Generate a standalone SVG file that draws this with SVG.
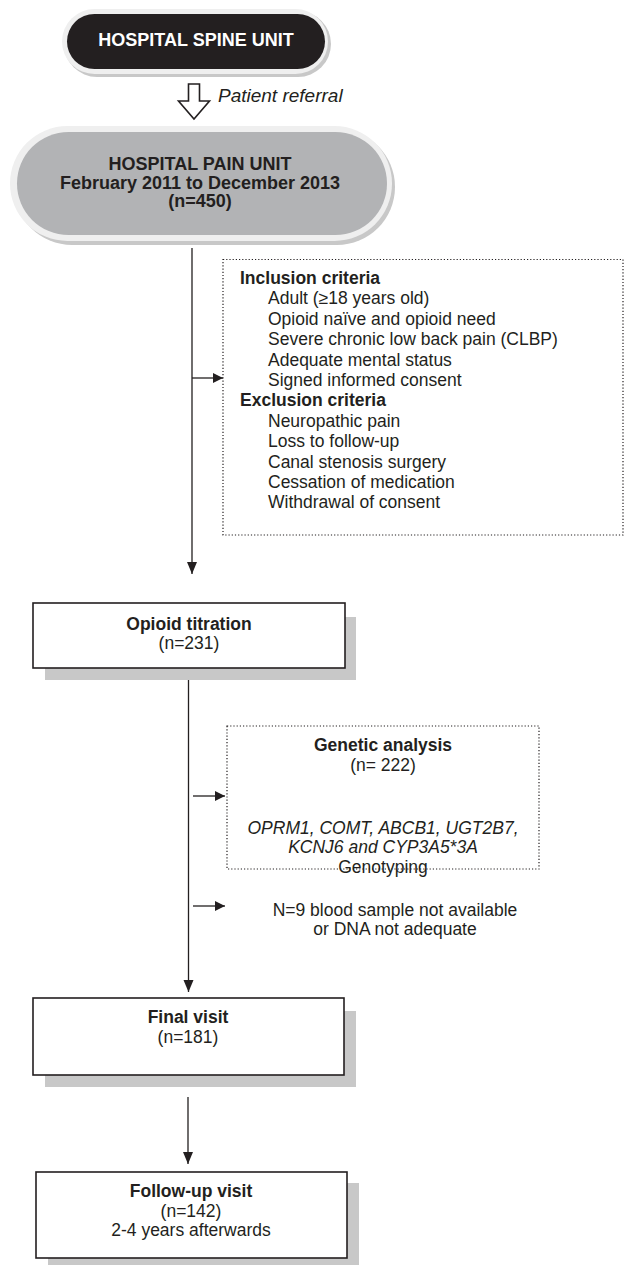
<svg xmlns="http://www.w3.org/2000/svg" width="625" height="1265" viewBox="0 0 625 1265">
<style>
text{font-family:"Liberation Sans",Arial,sans-serif;fill:#231f20;font-size:17.5px}
.b{font-weight:bold}
.i{font-style:italic}
.c{text-anchor:middle}
.box{fill:#fff;stroke:#231f20;stroke-width:1.6}
.sh{fill:#c8c8c8}
.dot{fill:none;stroke:#231f20;stroke-width:1.2;stroke-dasharray:1.2 2}
.ln{stroke:#231f20;stroke-width:1.3;fill:none}
</style>
<defs>
<marker id="ah" viewBox="0 0 10 10" refX="10" refY="5" markerWidth="10" markerHeight="10" markerUnits="userSpaceOnUse" orient="auto">
<path d="M0,0 L10,5 L0,10 Z" fill="#231f20"/>
</marker>
<marker id="ahl" viewBox="0 0 12 10" refX="12" refY="5" markerWidth="12" markerHeight="11" markerUnits="userSpaceOnUse" orient="auto">
<path d="M0,0 L12,5 L0,10 Z" fill="#231f20"/>
</marker>
</defs>

<g id="spine-unit">
<rect x="64" y="11" width="267" height="66" rx="33" fill="#c8c8c8"/>
<rect x="62" y="9" width="266" height="65" rx="32.5" fill="#efefef"/>
<rect x="67" y="14" width="258" height="55" rx="27.5" fill="#231f20"/>
<text x="196" y="46" class="b c" style="fill:#fff;font-size:18px">HOSPITAL SPINE UNIT</text>
</g>

<g id="referral">
<path d="M188.5,84 L199.5,84 L199.5,101 L209.5,101 L194,119 L178.5,101 L188.5,101 Z" fill="#fff" stroke="#231f20" stroke-width="1.6"/>
<text x="218" y="102" class="i" style="font-size:19px">Patient referral</text>
</g>

<g id="pain-unit">
<rect x="14" y="129" width="381" height="116" rx="58" fill="#c8c8c8"/>
<rect x="10" y="126" width="382" height="115" rx="57.5" fill="#efefef"/>
<rect x="17" y="132" width="370" height="103" rx="51.5" fill="#b2b3b5"/>
<text x="200" y="170" class="b c" style="font-size:18px">HOSPITAL PAIN UNIT</text>
<text x="200" y="188.5" class="b c" style="font-size:18px">February 2011 to December 2013</text>
<text x="200" y="207" class="b c" style="font-size:18px">(n=450)</text>
</g>

<g id="criteria">
<rect x="223" y="259.5" width="400" height="275.5" class="dot"/>
<text x="240" y="284" class="b">Inclusion criteria</text>
<text x="268" y="304.4">Adult (≥18 years old)</text>
<text x="268" y="324.8">Opioid naïve and opioid need</text>
<text x="268" y="345.2">Severe chronic low back pain (CLBP)</text>
<text x="268" y="365.6">Adequate mental status</text>
<text x="268" y="386">Signed informed consent</text>
<text x="240" y="406.4" class="b">Exclusion criteria</text>
<text x="268" y="426.8">Neuropathic pain</text>
<text x="268" y="447.2">Loss to follow-up</text>
<text x="268" y="467.6">Canal stenosis surgery</text>
<text x="268" y="488">Cessation of medication</text>
<text x="268" y="508.4">Withdrawal of consent</text>
</g>

<g id="opioid-titration">
<rect x="45" y="617" width="311" height="63" class="sh"/>
<rect x="33" y="603" width="312" height="65" class="box"/>
<text x="189" y="630" class="b c">Opioid titration</text>
<text x="189" y="649" class="c">(n=231)</text>
</g>

<g id="genetic-analysis">
<rect x="227" y="726" width="312" height="143" class="dot"/>
<text x="383" y="751" class="b c">Genetic analysis</text>
<text x="383" y="771" class="c">(n= 222)</text>
<text x="383" y="834" class="i c">OPRM1, COMT, ABCB1, UGT2B7,</text>
<text x="383" y="853" class="i c">KCNJ6 and CYP3A5*3A</text>
<text x="383" y="873" class="c">Genotyping</text>
</g>

<g id="dna-excluded">
<text x="395" y="916" class="c">N=9 blood sample not available</text>
<text x="395" y="935" class="c">or DNA not adequate</text>
</g>

<g id="final-visit">
<rect x="45" y="1011" width="311" height="76" class="sh"/>
<rect x="33" y="998" width="311" height="77" class="box"/>
<text x="188" y="1023" class="b c">Final visit</text>
<text x="188" y="1043" class="c">(n=181)</text>
</g>

<g id="follow-up-visit">
<rect x="48" y="1183" width="311" height="82" class="sh"/>
<rect x="36" y="1172" width="311" height="86" class="box"/>
<text x="191" y="1197" class="b c">Follow-up visit</text>
<text x="191" y="1217" class="c">(n=142)</text>
<text x="191" y="1236" class="c">2-4 years afterwards</text>
</g>

<g id="connectors">
<line x1="192" y1="248" x2="192" y2="574" class="ln" marker-end="url(#ahl)"/>
<line x1="192" y1="378" x2="223" y2="378" class="ln" marker-end="url(#ah)"/>
<line x1="188.5" y1="680" x2="188.5" y2="992" class="ln" marker-end="url(#ahl)"/>
<line x1="193" y1="796" x2="225" y2="796" class="ln" marker-end="url(#ah)"/>
<line x1="193" y1="906" x2="225" y2="906" class="ln" marker-end="url(#ah)"/>
<line x1="188" y1="1097" x2="188" y2="1164" class="ln" marker-end="url(#ahl)"/>
</g>
</svg>
